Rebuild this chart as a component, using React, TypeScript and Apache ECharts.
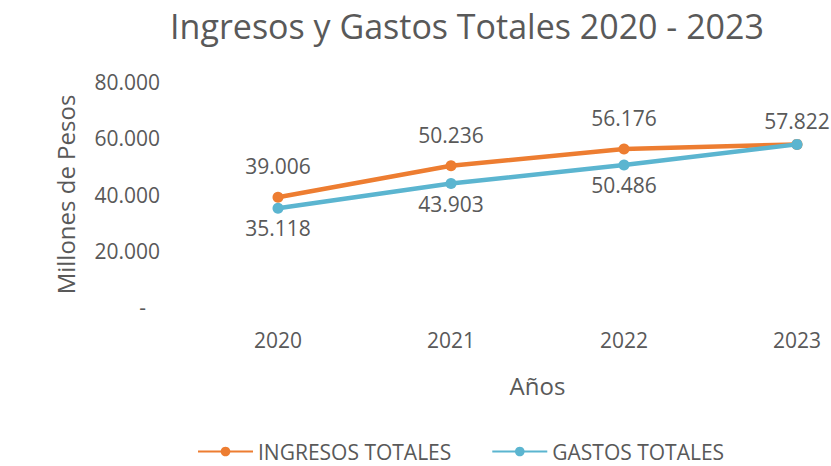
import React, { useEffect, useRef } from "react";
import * as echarts from "echarts";

const years = ["2020", "2021", "2022", "2023"];
const ingresos = [39006, 50236, 56176, 57822];
const gastos = [35118, 43903, 50486, 57822];
const titleText = "Ingresos y Gastos Totales 2020 - 2023";
const yName = "Millones de Pesos";
const xName = "Años";
const legendNames = ["INGRESOS TOTALES", "GASTOS TOTALES"];

const fmt = (v: number) =>
  v === 0 ? "-" : Math.round(v).toString().replace(/\B(?=(\d{3})+(?!\d))/g, ".");

export default function App() {
  const ref = useRef<HTMLDivElement>(null);
  useEffect(() => {
    const chart = echarts.init(ref.current!, null, { renderer: "svg" });
    const font = "'Open Sans', 'Noto Sans', sans-serif";
    const gray = "#595959";
    chart.setOption({
      animation: false,
      backgroundColor: "#ffffff",
      textStyle: { fontFamily: font },
      title: {
        text: titleText,
        left: 462,
        textAlign: "center",
        top: 4,
        textStyle: { fontFamily: font, fontSize: 34, fontWeight: "normal", color: gray },
      },
      legend: {
        top: 436,
        left: 192,
        itemWidth: 55,
        itemHeight: 12,
        itemGap: 40,
        textStyle: { fontFamily: font, fontSize: 21, color: gray },
        data: legendNames,
      },
      grid: { left: 278, right: 34, top: 82, bottom: 159 },
      xAxis: {
        type: "category",
        data: years,
        boundaryGap: false,
        name: xName,
        nameLocation: "middle",
        nameGap: 66,
        nameTextStyle: { fontFamily: font, fontSize: 24, color: gray },
        axisLine: { show: false },
        axisTick: { show: false },
        axisLabel: { margin: 22, fontSize: 21, color: gray, fontFamily: font, interval: 0 },
      },
      yAxis: {
        type: "value",
        min: 0,
        max: 80000,
        interval: 20000,
        name: yName,
        nameLocation: "middle",
        nameGap: 201,
        nameRotate: 90,
        nameTextStyle: { fontFamily: font, fontSize: 24, color: gray },
        axisLine: { show: false },
        axisTick: { show: false },
        splitLine: { show: false },
        axisLabel: {
          margin: 118,
          fontSize: 21,
          color: gray,
          fontFamily: font,
          formatter: (v: number) => (v === 0 ? "{z|-}" : fmt(v)),
          rich: { z: { fontSize: 21, color: gray, padding: [0, 14, 0, 0] } },
        },
      },
      series: [
        {
          name: legendNames[0],
          type: "line",
          data: ingresos.map((v, i) => ({
            value: v,
            label: { distance: i === ingresos.length - 1 ? 7 : 15 },
          })),
          symbol: "circle",
          symbolSize: 11,
          lineStyle: { width: 4.5, color: "#ED7D31" },
          itemStyle: { color: "#ED7D31" },
          z: 3,
          label: {
            show: true,
            position: "top",
            fontSize: 21,
            color: gray,
            fontFamily: font,
            formatter: (p: any) => fmt(p.value),
          },
        },
        {
          name: legendNames[1],
          type: "line",
          data: gastos.map((v, i) => ({
            value: v,
            label: { show: i < gastos.length - 1 },
          })),
          symbol: "circle",
          symbolSize: 11,
          lineStyle: { width: 4.5, color: "#5BB5D0" },
          itemStyle: { color: "#5BB5D0" },
          z: 4,
          label: {
            show: true,
            position: "bottom",
            distance: 4,
            fontSize: 21,
            color: gray,
            fontFamily: font,
            formatter: (p: any) => fmt(p.value),
          },
        },
      ],
    });
    return () => chart.dispose();
  }, []);
  return (
    <div
      ref={ref}
      style={{ position: "absolute", left: 0, top: 0, width: 831, height: 466 }}
    />
  );
}
